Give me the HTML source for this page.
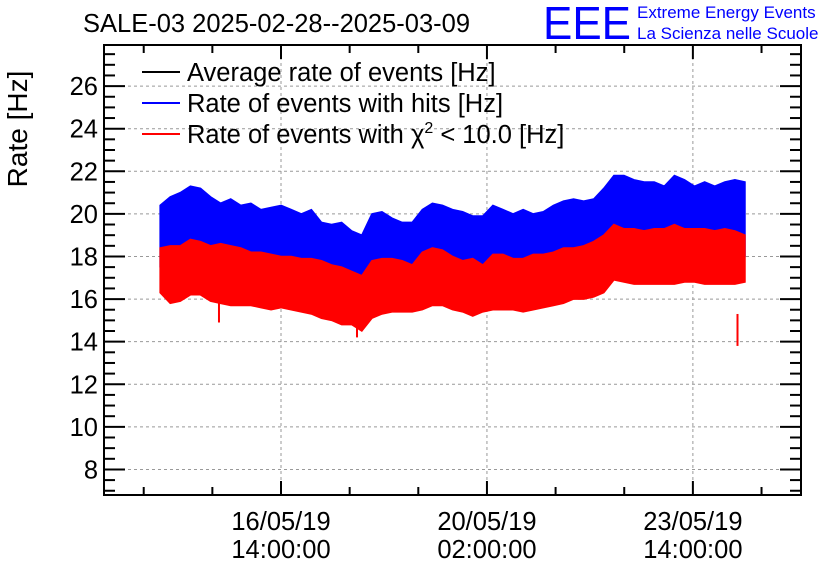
<!DOCTYPE html>
<html><head><meta charset="utf-8"><style>
html,body{margin:0;padding:0;background:#fff;}
svg{display:block;font-family:"Liberation Sans",sans-serif;}
</style></head><body>
<svg id="chart" width="836" height="572" viewBox="0 0 836 572">
<g id="grid"></g>
<g id="series"></g>
<g id="axes"></g>
<text x="83" y="32" font-size="25.5">SALE-03 2025-02-28--2025-03-09</text>
<g>
<text x="543" y="39" font-size="46" fill="#0000ff" textLength="88" lengthAdjust="spacingAndGlyphs">EEE</text>
<text x="637" y="18" font-size="17" fill="#0000ff">Extreme Energy Events</text>
<text x="637" y="39" font-size="17" fill="#0000ff">La Scienza nelle Scuole</text>
</g>
<text transform="translate(27,129) rotate(-90)" text-anchor="middle" font-size="28">Rate [Hz]</text>
<g>
<g><line x1="142" x2="180" y1="72" y2="72" stroke="#000" stroke-width="2"/><text x="187" y="81" font-size="25.5">Average rate of events [Hz]</text></g>
<g><line x1="142" x2="180" y1="103" y2="103" stroke="#0000ff" stroke-width="2"/><text x="187" y="112" font-size="25.5">Rate of events with hits [Hz]</text></g>
<g><line x1="142" x2="180" y1="134" y2="134" stroke="#ff0000" stroke-width="2"/><text x="187" y="143" font-size="25.5">Rate of events with χ<tspan dy="-10" font-size="16">2</tspan><tspan dy="10"> &lt; 10.0 [Hz]</tspan></text></g>
</g>
</svg>
<script>
// hours relative to 16/05/19 14:00, one value per bin
const binStartHour = -49.3;
const binStepHour = 4.113;
const blueHi = [20.4,20.8,21.0,21.3,21.2,20.8,20.5,20.7,20.4,20.5,20.2,20.3,20.4,20.2,20.0,20.2,19.6,19.5,19.6,19.2,19.0,20.0,20.1,19.8,19.6,19.6,20.2,20.5,20.4,20.2,20.1,19.9,19.9,20.4,20.2,20.0,20.2,20.0,20.1,20.4,20.6,20.7,20.6,20.7,21.2,21.8,21.8,21.6,21.5,21.5,21.3,21.8,21.6,21.3,21.5,21.3,21.5,21.6,21.5];
const redHi = [18.4,18.5,18.5,18.8,18.7,18.5,18.6,18.5,18.4,18.2,18.2,18.1,18.0,18.0,17.9,17.9,17.8,17.6,17.5,17.3,17.1,17.8,17.9,17.9,17.8,17.6,18.2,18.4,18.3,18.0,17.8,17.9,17.6,18.1,18.1,17.9,17.9,18.1,18.1,18.2,18.4,18.4,18.5,18.7,19.0,19.5,19.3,19.3,19.2,19.3,19.3,19.5,19.3,19.3,19.3,19.2,19.3,19.2,19.0];
const redLo = [16.3,15.8,15.9,16.2,16.2,15.9,15.8,15.7,15.7,15.7,15.6,15.5,15.6,15.5,15.4,15.3,15.1,15.0,14.8,14.8,14.5,15.1,15.3,15.4,15.4,15.4,15.5,15.7,15.7,15.5,15.4,15.2,15.4,15.5,15.5,15.5,15.4,15.5,15.6,15.7,15.8,16.0,16.0,16.1,16.3,16.9,16.8,16.7,16.7,16.7,16.7,16.7,16.8,16.8,16.7,16.7,16.7,16.7,16.8];
const spikeHours = [-25.3, 31.0, 186.2];
const spikeValues = [14.9, 14.2, 13.8];
const yTicks = [8,10,12,14,16,18,20,22,24,26];
const xTickHours = [0,84,168];
const xTickDates = ["16/05/19","20/05/19","23/05/19"];
const xTickTimes = ["14:00:00","02:00:00","14:00:00"];

const L=104,R=801,T=45,B=495;
const yMin=6.8, yMax=27.93;
const hMin=-72.2, hMax=212.1;
const X=h=>L+(h-hMin)/(hMax-hMin)*(R-L);
const Y=v=>B-(v-yMin)/(yMax-yMin)*(B-T);
const NS="http://www.w3.org/2000/svg";
function mk(tag,attrs,parent){const e=document.createElementNS(NS,tag);for(const k in attrs)e.setAttribute(k,attrs[k]);parent.appendChild(e);return e;}
const grid=document.getElementById('grid'),ser=document.getElementById('series'),ax=document.getElementById('axes');

yTicks.forEach(v=>{
  const g=mk('line',{x1:L,x2:R,y1:Y(v),y2:Y(v),stroke:'#999','stroke-dasharray':'3,3','stroke-width':1},grid);
  
  
});
xTickHours.forEach(h=>{
  const g=mk('line',{x1:X(h),x2:X(h),y1:T,y2:B,stroke:'#999','stroke-dasharray':'3,3','stroke-width':1},grid);
  
  
});

function band(hi,lo,color,name){
  let top='',bot='';
  const n=hi.length;
  for(let i=0;i<n;i++){
    const x=X(binStartHour+i*binStepHour);
    top+=`${i?'L':'M'}${x},${Y(hi[i])} `;
    bot=`L${x},${Y(lo[i])} `+bot;
  }
  const p=mk('path',{d:top+bot+'Z',fill:color,stroke:color,'stroke-width':1.5,'stroke-linejoin':'miter'},ser);
  
  
}
band(blueHi,redLo.map(v=>v+1.2),'#0000ff','series-hits-rate');
band(redHi,redLo,'#ff0000','series-chi2-rate');
spikeHours.forEach((h,i)=>{
  const s=mk('line',{x1:X(h),x2:X(h),y1:Y(spikeValues[i]),y2:Y(spikeValues[i]+1.5),stroke:'#ff0000','stroke-width':2},ser);
  
  
});

const fr=mk('rect',{x:L,y:T,width:R-L,height:B-T,fill:'none',stroke:'#000','stroke-width':2},ax);


for(let v=7;v<=27.9;v+=0.5){
  const major=yTicks.includes(v), len=major?21:11;
  mk('line',{x1:L,x2:L+len,y1:Y(v),y2:Y(v),stroke:'#000','stroke-width':2},ax);
  mk('line',{x1:R,x2:R-len,y1:Y(v),y2:Y(v),stroke:'#000','stroke-width':2},ax);
  if(major){
    const t=mk('text',{x:L-6,y:Y(v)+9,'text-anchor':'end','font-size':25.5},ax);
    t.textContent=v;
    
    
  }
}
for(let h=-56;h<=hMax;h+=28){
  const major=xTickHours.includes(h), len=major?14:8;
  mk('line',{x1:X(h),x2:X(h),y1:B,y2:B-len,stroke:'#000','stroke-width':2},ax);
  mk('line',{x1:X(h),x2:X(h),y1:T,y2:T+len,stroke:'#000','stroke-width':2},ax);
}
xTickHours.forEach((h,i)=>{
  const t1=mk('text',{x:X(h),y:530,'text-anchor':'middle','font-size':25.5},ax);
  t1.textContent=xTickDates[i];
  
  
  const t2=mk('text',{x:X(h),y:558,'text-anchor':'middle','font-size':25.5},ax);
  t2.textContent=xTickTimes[i];
  
  
});
</script>
</body></html>
